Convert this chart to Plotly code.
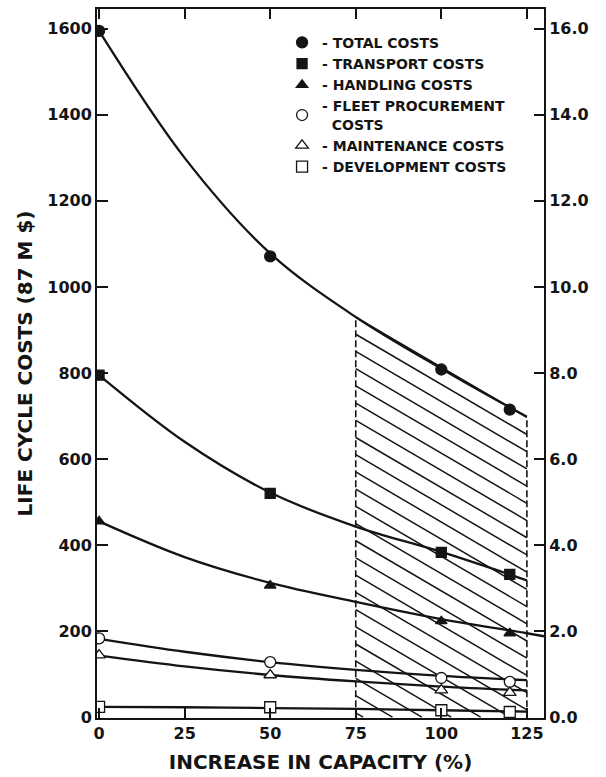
import plotly.graph_objects as go

# ---------------- data ----------------
x_pts = [0, 50, 100, 120]
total_pts = [1595, 1071, 808, 715]
transport_pts = [795, 520, 383, 332]
handling_pts = [455, 306, 223, 195]
fleet_pts = [183, 128, 91, 82]
maint_pts = [144, 98, 63, 57]
dev_pts = [24, 23, 16, 12]

# fitted curves
x_curve = [0, 25, 50, 75, 100, 125]
total_curve = [1595, 1300, 1078, 930, 810, 698]
transport_curve = [795, 640, 522, 443, 384, 318]
fleet_curve = [182, 152, 128, 110, 96, 86]
maint_curve = [143, 118, 98, 83, 71, 62]
dev_curve = [24, 23, 21, 19, 16, 13]
x_handling_curve = [0, 25, 50, 75, 100, 125, 130]
handling_curve = [455, 372, 312, 268, 228, 195, 188]

# shaded (hatched) region
hatch_x = [75, 125]
hatch_top = [930, 697]
hatch_step = 40

x_ticks = [0, 25, 50, 75, 100, 125]
y_ticks = [0, 200, 400, 600, 800, 1000, 1200, 1400, 1600]
y2_ticks = [0, 2, 4, 6, 8, 10, 12, 14, 16]

legend_names = ["- TOTAL COSTS", "- TRANSPORT COSTS", "- HANDLING COSTS",
                "- FLEET PROCUREMENT<br>\u00a0\u00a0COSTS", "- MAINTENANCE COSTS",
                "- DEVELOPMENT COSTS"]

# ---------------- styling ----------------
INK = "#141414"
FONT = "DejaVu Sans"
y_range = [-2, 1646]
x_range = [-0.6, 130]

fig = go.Figure()

# hatch lines (parallel to the top chord of the region)
slope = (hatch_top[1] - hatch_top[0]) / (hatch_x[1] - hatch_x[0])
hx, hy = [], []
k = 1
while hatch_top[0] - k * hatch_step > 0:
    y0 = hatch_top[0] - k * hatch_step
    y1 = hatch_top[1] - k * hatch_step
    x1 = hatch_x[1]
    if y1 < 0:
        x1 = hatch_x[0] + y0 / (-slope)
        y1 = 0
    hx += [hatch_x[0], x1, None]
    hy += [y0, y1, None]
    k += 1
fig.add_trace(go.Scatter(x=hx, y=hy, mode="lines", line=dict(color=INK, width=1.5),
                         showlegend=False, hoverinfo="skip"))
# top chord
fig.add_trace(go.Scatter(x=hatch_x, y=hatch_top, mode="lines", line=dict(color=INK, width=1.5),
                         showlegend=False, hoverinfo="skip"))
# dashed sides
for xv, tv in zip(hatch_x, hatch_top):
    fig.add_trace(go.Scatter(x=[xv, xv], y=[0, tv], mode="lines",
                             line=dict(color=INK, width=1.6, dash="7px,3px"),
                             showlegend=False, hoverinfo="skip"))

# curves
for xs, ys in [(x_curve, total_curve), (x_curve, transport_curve),
               (x_handling_curve, handling_curve), (x_curve, fleet_curve),
               (x_curve, maint_curve), (x_curve, dev_curve)]:
    fig.add_trace(go.Scatter(x=xs, y=ys, mode="lines",
                             line=dict(color=INK, width=2.3, shape="spline", smoothing=1.0),
                             showlegend=False, hoverinfo="skip"))

# markers (also legend entries)
marker_specs = [
    (total_pts, "circle", INK, 11),
    (transport_pts, "square", INK, 10),
    (handling_pts, "triangle-up", INK, 10),
    (fleet_pts, "circle", "white", 11),
    (maint_pts, "triangle-up", "white", 11),
    (dev_pts, "square", "white", 11),
]
for (ys, sym, fill, size), name in zip(marker_specs, legend_names):
    fig.add_trace(go.Scatter(x=x_pts, y=ys, mode="markers", name=name,
                             marker=dict(symbol=sym, color=fill, size=size,
                                         line=dict(color=INK, width=1.3))))

# invisible trace to activate the right axis
fig.add_trace(go.Scatter(x=[None], y=[None], yaxis="y2", showlegend=False, hoverinfo="skip"))

tickfont = dict(family=FONT, size=16, color=INK, weight="bold")
titlefont = dict(family=FONT, size=20, color=INK, weight="bold")

fig.update_layout(
    width=606, height=777,
    margin=dict(l=97, r=62, t=9, b=59, pad=0, autoexpand=False),
    paper_bgcolor="white", plot_bgcolor="white",
    showlegend=True,
    legend=dict(x=0.414, y=0.975, xanchor="left", yanchor="top",
                bgcolor="rgba(0,0,0,0)", borderwidth=0,
                font=dict(family=FONT, size=14, color=INK, weight="bold"),
                tracegroupgap=0),
    xaxis=dict(range=x_range, tickvals=x_ticks, ticks="inside", ticklen=10, tickwidth=1.5,
               tickcolor=INK, showline=True, linecolor=INK, linewidth=2, mirror="ticks",
               showgrid=False, zeroline=False, tickfont=tickfont, automargin=False,
               title=dict(text="INCREASE IN CAPACITY (%)", font=titlefont, standoff=13)),
    yaxis=dict(range=y_range, tickvals=y_ticks, ticks="inside", ticklen=11, tickwidth=1.5,
               tickcolor=INK, showline=True, linecolor=INK, linewidth=2,
               showgrid=False, zeroline=False, tickfont=tickfont, automargin=False,
               title=dict(text="LIFE CYCLE COSTS (87 M $)", font=titlefont, standoff=9)),
    yaxis2=dict(range=[v / 100 for v in y_range], tickvals=y2_ticks, tickformat=".1f",
                overlaying="y", side="right", ticks="inside", ticklen=10, tickwidth=1.5,
                tickcolor=INK, showline=True, linecolor=INK, linewidth=2, automargin=False,
                showgrid=False, zeroline=False, tickfont=tickfont),
)

fig.write_html("out.html")
